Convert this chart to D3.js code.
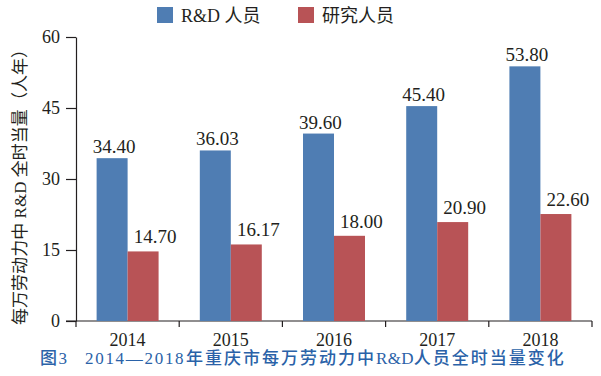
<!DOCTYPE html>
<html>
<head>
<meta charset="utf-8">
<script src="https://cdn.jsdelivr.net/npm/d3@7"></script>
<style>
  body { margin: 0; background: #fff; }
  svg { display: block; }
  text { font-family: "Liberation Serif", "Noto Sans CJK SC", serif; fill: #231f20; }
</style>
</head>
<body>
<div id="chart"></div>
<script>
// data
const years = ["2014", "2015", "2016", "2017", "2018"];
const seriesNames = ["R&D 人员", "研究人员"];
const rdStaff = [34.40, 36.03, 39.60, 45.40, 53.80];
const researchers = [14.70, 16.17, 18.00, 20.90, 22.60];
const yTicks = [0, 15, 30, 45, 60];
const colors = ["#4f7db3", "#b85356"];

const W = 601, H = 376;
const margin = {top: 37, right: 9, bottom: 55, left: 76};
const width = W - margin.left - margin.right,
    height = H - margin.top - margin.bottom;

const svg = d3.select("#chart")
    .append("svg")
    .attr("width", W)
    .attr("height", H);

const g = svg.append("g")
    .attr("transform", `translate(${margin.left}, ${margin.top})`);

// scales
const x0 = d3.scaleBand()
    .domain(years)
    .range([0, width])
    .padding(0);

const x1 = d3.scaleBand()
    .domain(seriesNames)
    .range([0, x0.bandwidth()])
    .paddingInner(0)
    .paddingOuter(0.665);

const y = d3.scaleLinear()
    .domain([0, 60])
    .range([height, 0]);

// y axis
const yAxis = g.append("g")
    .call(d3.axisLeft(y).tickValues(yTicks).tickSize(10).tickPadding(6).tickSizeOuter(0));
yAxis.selectAll("text").style("font-size", "18px").attr("fill", "#231f20");
yAxis.selectAll("line, path").attr("stroke", "#231f20").attr("stroke-width", 1.2);

// x axis
const xAxis = g.append("g")
    .attr("transform", `translate(0, ${height})`)
    .call(d3.axisBottom(x0).tickSize(0).tickPadding(12));
xAxis.select(".domain").remove();
xAxis.selectAll("text").style("font-size", "18px").attr("fill", "#231f20");

g.append("line")
    .attr("x1", -10).attr("x2", width)
    .attr("y1", height).attr("y2", height)
    .attr("stroke", "#231f20").attr("stroke-width", 1.2);

// tick marks between categories
const edges = years.map(d => x0(d)).concat([x0(years[years.length - 1]) + x0.bandwidth()]);
g.selectAll(".xtick")
    .data(edges)
    .join("line")
    .attr("class", "xtick")
    .attr("x1", d => d).attr("x2", d => d)
    .attr("y1", height).attr("y2", height + 6)
    .attr("stroke", "#231f20").attr("stroke-width", 1.2);

// bars
const rows = years.map((yr, i) => ({
    year: yr,
    values: [
        {key: seriesNames[0], value: rdStaff[i], c: colors[0], dx: 2, dy: 5},
        {key: seriesNames[1], value: researchers[i], c: colors[1], dx: 12, dy: 8}
    ]
}));

const groups = g.selectAll(".grp")
    .data(rows)
    .join("g")
    .attr("class", "grp")
    .attr("transform", d => `translate(${x0(d.year)}, 0)`);

groups.selectAll("rect")
    .data(d => d.values)
    .join("rect")
    .attr("x", d => x1(d.key))
    .attr("y", d => y(d.value))
    .attr("width", x1.bandwidth())
    .attr("height", d => height - y(d.value))
    .attr("fill", d => d.c);

groups.selectAll(".lbl")
    .data(d => d.values)
    .join("text")
    .attr("class", "lbl")
    .attr("x", d => x1(d.key) + x1.bandwidth() / 2 + d.dx)
    .attr("y", d => y(d.value) - d.dy)
    .attr("text-anchor", "middle")
    .style("font-size", "19px")
    .text(d => d.value.toFixed(2));

// y title
svg.append("text")
    .attr("transform", `translate(26, ${margin.top + 146}) rotate(-90)`)
    .attr("text-anchor", "middle")
    .attr("textLength", 284)
    .attr("lengthAdjust", "spacing")
    .style("font-size", "17px")
    .attr("fill", "#231f20")
    .text("每万劳动力中 R&D 全时当量（人年）");

// legend
const legendX = [157, 298];
const legend = svg.selectAll(".leg")
    .data(seriesNames)
    .join("g")
    .attr("class", "leg")
    .attr("transform", (d, i) => `translate(${legendX[i]}, 7)`);
legend.append("rect")
    .attr("width", 16).attr("height", 16)
    .attr("fill", (d, i) => colors[i]);
legend.append("text")
    .attr("x", 24).attr("y", 15)
    .style("font-size", "18px")
    .text(d => d);

// caption (pieces flow after the first ones, spacing tuned per script)
const capParts = [
    {t: "图3", x: 40, ls: 1.5},
    {t: "2014—2018", x: 85, ls: 1.7},
    {t: "年重庆市每万劳动力中", x: 186, ls: 2},
    {t: "R&D", x: null, ls: 0.3},
    {t: "人员全时当量变化", x: null, ls: 2}
];
svg.append("text")
    .attr("y", 364)
    .style("font-size", "17px")
    .style("font-weight", 500)
    .style("fill", "#2a62a8")
    .selectAll("tspan")
    .data(capParts)
    .join("tspan")
    .attr("x", d => d.x)
    .style("letter-spacing", d => d.ls + "px")
    .style("fill", "#2a62a8")
    .text(d => d.t);
</script>
</body>
</html>
